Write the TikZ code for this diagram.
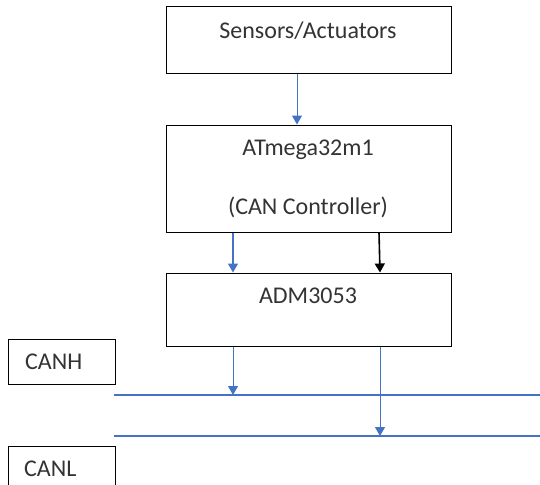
\documentclass[tikz,border=0pt]{standalone}
\usepackage{fontspec}
\setmainfont{Carlito}
\usetikzlibrary{arrows.meta}
\definecolor{wordblue}{RGB}{68,114,196}
\begin{document}
\begin{tikzpicture}[x=1pt,y=-1pt]
\tikzset{box/.style={draw=black,line width=1pt,rectangle,inner sep=0pt},
  txt/.style={inner sep=0pt,font=\fontsize{24}{28}\selectfont,text=black!80},
  arr/.style={wordblue,line width=1pt,-{Triangle[width=10pt,length=9pt]}},
  bus/.style={wordblue,line width=1.8pt}}
\useasboundingbox (0,0) rectangle (540,484);
\node [box,minimum width=285pt,minimum height=67pt] (sens) at (308.5,40.5) {};
\node [txt] (senst) at (308,31) {Sensors/Actuators};
\node [box,minimum width=285pt,minimum height=107pt] (atm) at (308.5,178.5) {};
\node [txt] (atmt) at (308,150) {ATmega32m1};
\node [txt] (atmc) at (308,207) {(CAN Controller)};
\node [box,minimum width=285pt,minimum height=73pt] (adm) at (308.5,309.5) {};
\node [txt] (admt) at (308,296) {ADM3053};
\node [box,minimum width=107pt,minimum height=45pt] (canh) at (61.5,361.5) {};
\node [txt,anchor=west] (canht) at (25,362) {CANH};
\node [box,minimum width=107pt,minimum height=60pt] (canl) at (61.5,476) {};
\node [txt,anchor=west] (canlt) at (24,469) {CANL};
\coordinate (hl) at (114,395);
\coordinate (hr) at (540,395);
\coordinate (ll) at (114,436);
\coordinate (lr) at (540,436);
\draw [bus] (hl) -- (hr);
\draw [bus] (ll) -- (lr);
\draw [arr] (sens.south -| 297,0) -- (atm.north -| 297,0);
\draw [arr,line width=1.6pt] (atm.south -| 233,0) -- (adm.north -| 233,0);
\draw [arr,black,line width=1.6pt] (atm.south -| 379,0) -- (adm.north -| 380,0);
\draw [arr] (adm.south -| 233,0) -- (hl -| 233,0);
\draw [arr] (adm.south -| 380,0) -- (ll -| 380,0);
\end{tikzpicture}
\end{document}
